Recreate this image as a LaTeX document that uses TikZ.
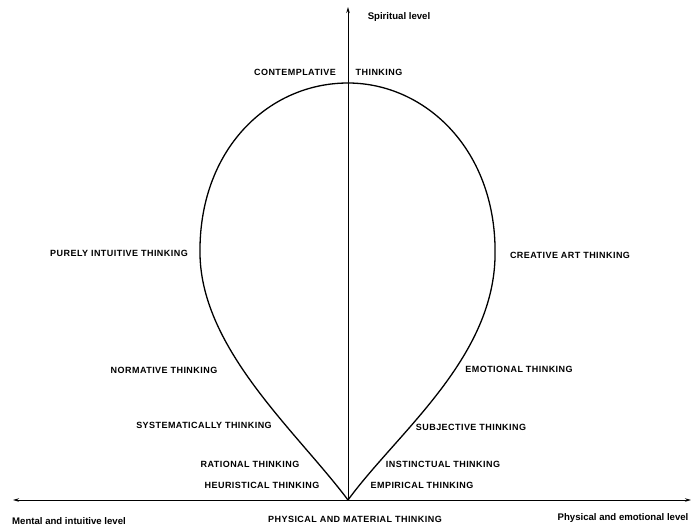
\documentclass[tikz,border=0pt]{standalone}
\usepackage{fontspec}
\setmainfont{Liberation Sans}
\newfontfamily\capsfont[LetterSpace=5]{Liberation Sans}
\usetikzlibrary{arrows.meta, positioning}

\begin{document}
\begin{tikzpicture}[
  x=1pt, y=-1pt,
  lbl/.style={font=\capsfont\fontsize{9}{10}\selectfont\bfseries, inner sep=0pt},
  lvl/.style={font=\fontsize{9.6}{10}\selectfont\bfseries, inner sep=0pt},
  axis/.style={line width=1pt, -{Stealth[length=6pt,width=3.5pt]}},
  baseline/.style={line width=0.9pt, {Stealth[length=6pt,width=3.5pt]}-{Stealth[length=6pt,width=3.5pt]}},
  drop/.style={line width=1.3pt}
]
  \useasboundingbox (0,0) rectangle (692,530);

  % axes
  \coordinate (origin) at (348,500);
  \coordinate (spirit) at (348,7);
  \coordinate (mental) at (13,500);
  \coordinate (physical) at (691,500);
  \draw[axis] (origin) -- (spirit);
  \draw[baseline] (mental) -- (physical);

  % the drop
  \coordinate (top) at (348,83);
  \coordinate (lw) at (200,255);
  \coordinate (rw) at (495,258);
  \draw[drop] (origin) .. controls (397,433) and (492,360) .. (rw)
    .. controls (498,150) and (425,83) .. (top)
    .. controls (268,83) and (198,150) .. (lw)
    .. controls (202,350) and (297,432) .. (origin);

  % level names
  \node[lvl] (spiritual) at (399,17) {Spiritual level};
  \node[lvl] (mentallvl) at (69,521) {Mental and intuitive level};
  \node[lvl] (physlvl) at (623,518) {Physical and emotional level};

  % kinds of thinking
  \node[lbl] (contempl) at (295,72) {CONTEMPLATIVE};
  \node[lbl] (contemplb) at (379,72) {THINKING};
  \node[lbl] (intuit) at (119,253) {PURELY INTUITIVE THINKING};
  \node[lbl] (creative) at (570,255) {CREATIVE ART THINKING};
  \node[lbl] (normat) at (164,370) {NORMATIVE THINKING};
  \node[lbl] (emotion) at (519,369) {EMOTIONAL THINKING};
  \node[lbl] (system) at (204,425) {SYSTEMATICALLY THINKING};
  \node[lbl] (subject) at (471,427) {SUBJECTIVE THINKING};
  \node[lbl] (ration) at (250,464) {RATIONAL THINKING};
  \node[lbl] (instinct) at (443,464) {INSTINCTUAL THINKING};
  \node[lbl] (heurist) at (262,485) {HEURISTICAL THINKING};
  \node[lbl] (empiric) at (422,485) {EMPIRICAL THINKING};
  \node[lbl] (material) at (355,519) {PHYSICAL AND MATERIAL THINKING};
\end{tikzpicture}
\end{document}
